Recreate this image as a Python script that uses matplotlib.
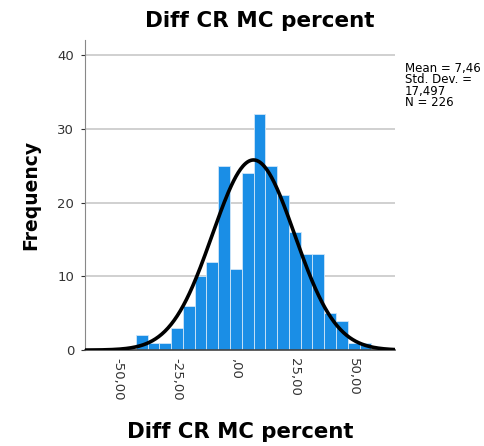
import numpy as np
import matplotlib.pyplot as plt

# Histogram of Diff CR MC percent, bin width 5
bin_edges = np.arange(-42.5, 57.6, 5)
counts = [2, 1, 1, 3, 6, 10, 12, 25, 11, 24, 32, 25, 21, 16, 13, 13, 5, 4, 1, 1]
mean = 7.46
std = 17.497
n = 226
x_ticks = [-50, -25, 0, 25, 50]
x_ticklabels = ['-50,00', '-25,00', ',00', '25,00', '50,00']

fig = plt.figure(figsize=(4.84, 4.46), dpi=100)
ax = fig.add_axes([0.176, 0.215, 0.64, 0.695])

ax.bar(bin_edges[:-1], counts, width=5, align='edge', color='#1a8ee6',
       edgecolor='#cfe6f8', linewidth=0.6, zorder=2)

# normal curve scaled to counts
xs = np.linspace(-64, 67, 400)
ys = n * 5 / (std * np.sqrt(2 * np.pi)) * np.exp(-0.5 * ((xs - mean) / std) ** 2)
ax.plot(xs, ys, color='black', linewidth=2.6, zorder=3)

ax.set_xlim(-64, 67.5)
ax.set_ylim(0, 42)
ax.set_yticks([0, 10, 20, 30, 40])
ax.yaxis.grid(True, color='#c8c8c8', linewidth=1.2, zorder=0)
ax.set_axisbelow(True)
ax.set_xticks(x_ticks)
ax.set_xticklabels(x_ticklabels, rotation=-90, fontsize=9.5, color='#333333')
ax.tick_params(axis='y', labelsize=9.5, colors='#333333', length=3, pad=5)
ax.tick_params(axis='x', length=0, pad=6)

for s in ['top', 'right']:
    ax.spines[s].set_visible(False)
ax.spines['left'].set_color('#888888')
ax.spines['bottom'].set_color('#444444')
ax.spines['bottom'].set_linewidth(1.2)

fig.text(0.537, 0.939, 'Diff CR MC percent', fontsize=15.5, fontweight='bold',
         ha='center', va='baseline')
ax.set_ylabel('Frequency', fontsize=13.5, fontweight='bold', labelpad=12)
fig.text(0.496, 0.018, 'Diff CR MC percent', fontsize=15.3, fontweight='bold', ha='center')

# summary stats box (clipped at the right edge like the original)
fig.text(0.836, 0.862, 'Mean = 7,46\nStd. Dev. =\n17,497\nN = 226',
         fontsize=8.5, va='top', ha='left', linespacing=0.85)

fig.savefig('out.png', dpi=100)
